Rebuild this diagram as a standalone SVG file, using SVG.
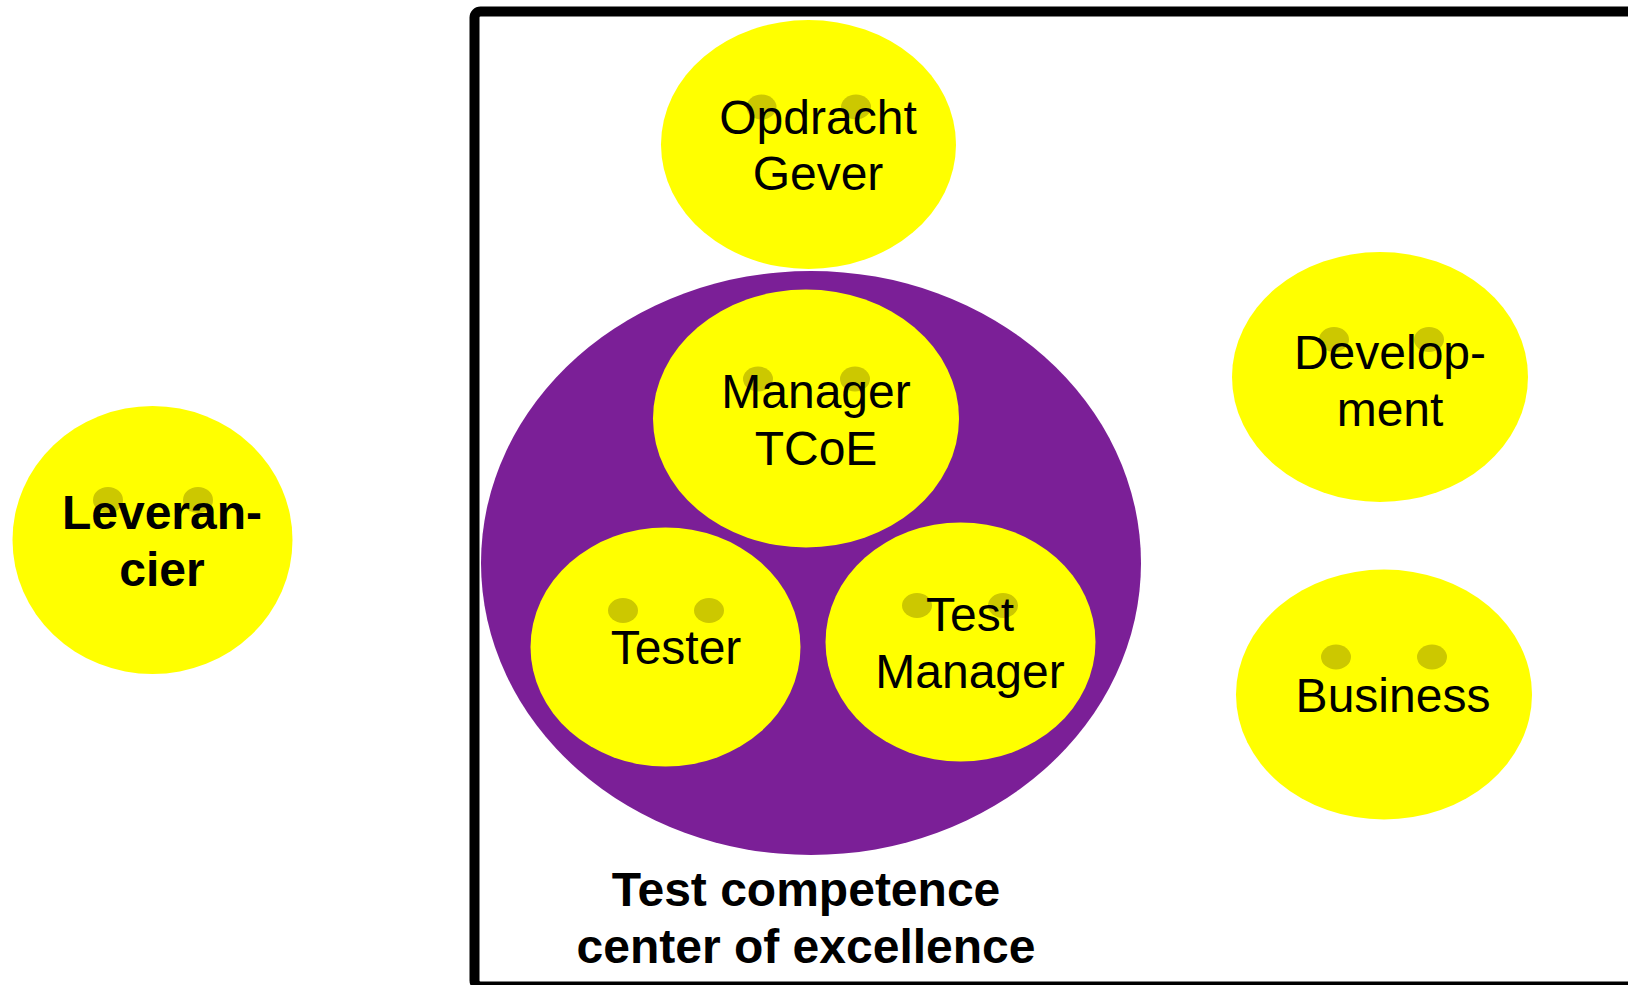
<svg xmlns="http://www.w3.org/2000/svg" width="1628" height="985" viewBox="0 0 1628 985">
<style>
.face{fill:#FFFF00;}
.eye{fill:#CCC800;}
.t{font-family:"Liberation Sans",Arial,sans-serif;font-size:48px;fill:#000;text-anchor:middle;}
.b{font-weight:bold;}
</style>
<rect width="1628" height="985" fill="#FFFFFF"/>
<g id="tcoe-frame">
<rect x="474.5" y="11.5" width="1200" height="975" rx="6" fill="none" stroke="#000" stroke-width="10"/>
<text class="t b" x="806" y="906">Test competence</text>
<text class="t b" x="806" y="963">center of excellence</text>
</g>
<g id="opdrachtgever">
<ellipse class="face" cx="808.5" cy="144.5" rx="147.5" ry="124.5"/>
<ellipse class="eye" cx="761.5" cy="107" rx="15" ry="12.5"/>
<ellipse class="eye" cx="856" cy="107" rx="15" ry="12.5"/>
<text class="t" x="818" y="134">Opdracht</text>
<text class="t" x="818" y="190">Gever</text>
</g>
<g id="tcoe">
<ellipse cx="811" cy="563" rx="330" ry="292" fill="#7B1F97"/>
</g>
<g id="manager-tcoe">
<ellipse class="face" cx="806" cy="418.5" rx="153" ry="129"/>
<ellipse class="eye" cx="758" cy="379" rx="15" ry="12.5"/>
<ellipse class="eye" cx="855" cy="379" rx="15" ry="12.5"/>
<text class="t" x="816" y="408">Manager</text>
<text class="t" x="816" y="465">TCoE</text>
</g>
<g id="tester">
<ellipse class="face" cx="665.5" cy="647" rx="135" ry="119.5"/>
<ellipse class="eye" cx="623" cy="610.5" rx="15" ry="12.5"/>
<ellipse class="eye" cx="709" cy="610.5" rx="15" ry="12.5"/>
<text class="t" x="676" y="664">Tester</text>
</g>
<g id="test-manager">
<ellipse class="face" cx="960.5" cy="642" rx="135" ry="119.5"/>
<ellipse class="eye" cx="917" cy="605.5" rx="15" ry="12.5"/>
<ellipse class="eye" cx="1003" cy="605.5" rx="15" ry="12.5"/>
<text class="t" x="970" y="631">Test</text>
<text class="t" x="970" y="688">Manager</text>
</g>
<g id="development">
<ellipse class="face" cx="1380" cy="377" rx="148" ry="125"/>
<ellipse class="eye" cx="1334" cy="339.5" rx="15" ry="12.5"/>
<ellipse class="eye" cx="1429" cy="339.5" rx="15" ry="12.5"/>
<text class="t" x="1390" y="369">Develop-</text>
<text class="t" x="1390" y="426">ment</text>
</g>
<g id="business">
<ellipse class="face" cx="1384" cy="694.5" rx="148" ry="125"/>
<ellipse class="eye" cx="1336" cy="657" rx="15" ry="12.5"/>
<ellipse class="eye" cx="1432" cy="657" rx="15" ry="12.5"/>
<text class="t" x="1393" y="712">Business</text>
</g>
<g id="leverancier">
<ellipse class="face" cx="152.5" cy="540" rx="140" ry="134"/>
<ellipse class="eye" cx="108" cy="500" rx="15" ry="13"/>
<ellipse class="eye" cx="198" cy="500" rx="15" ry="13"/>
<text class="t b" x="162" y="529">Leveran-</text>
<text class="t b" x="162" y="586">cier</text>
</g>
<g id="connectors"></g>
</svg>
